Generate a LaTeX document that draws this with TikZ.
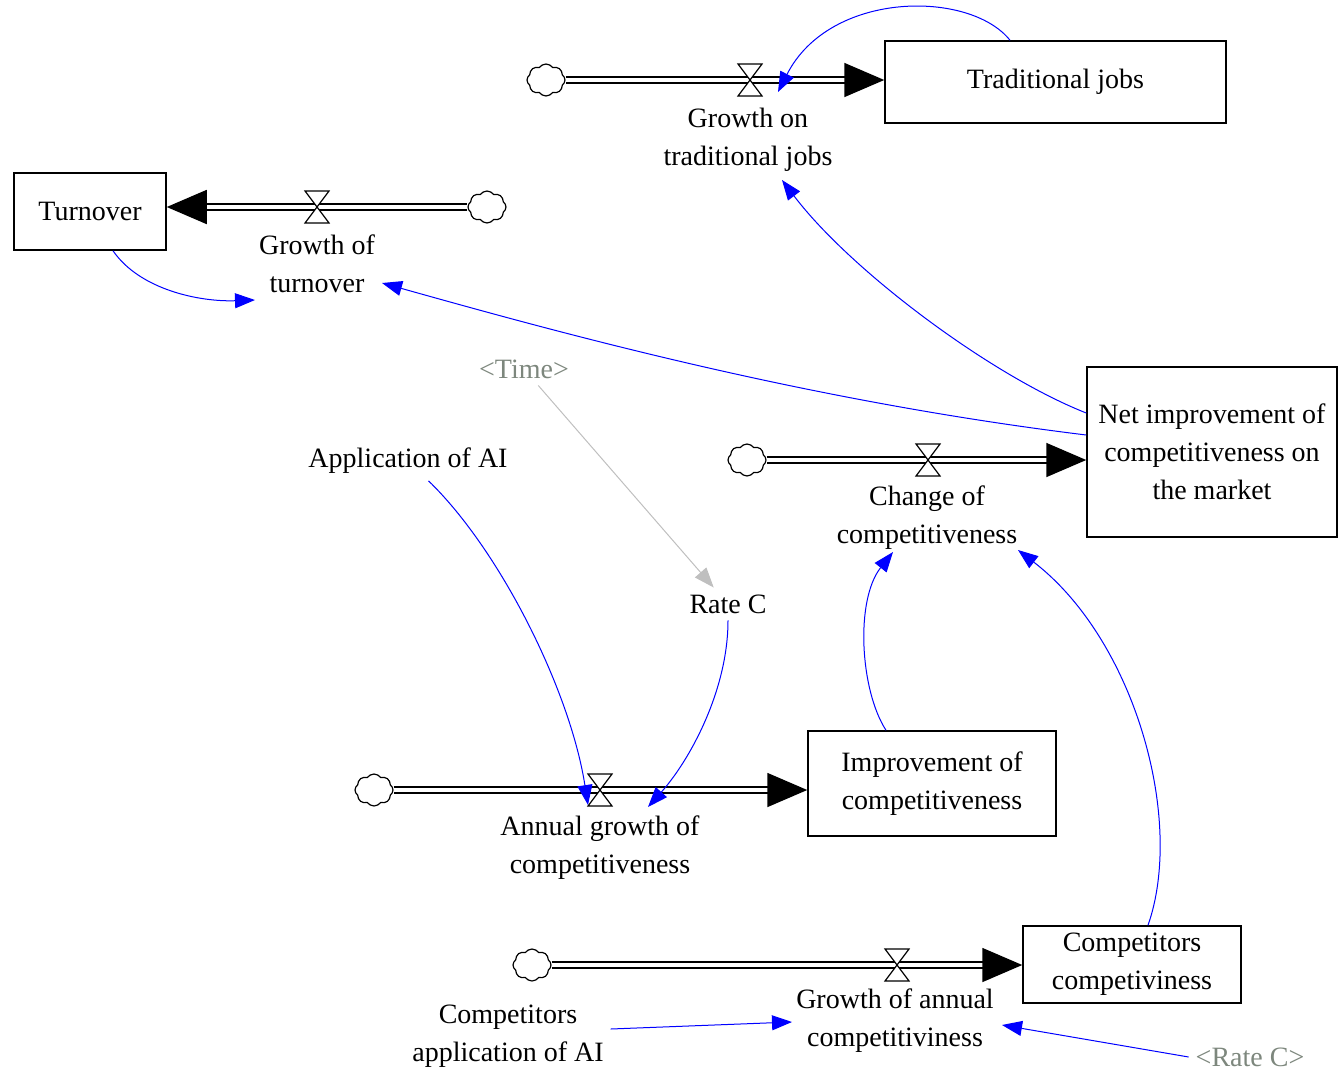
\documentclass[tikz,border=0pt]{standalone}
\usepackage{fontspec}
\setmainfont{Liberation Serif}
\usetikzlibrary{arrows.meta,shapes.symbols}

\definecolor{shadowgray}{RGB}{125,135,125}

\tikzset{
  every node/.style={font=\fontsize{14}{19}\selectfont, align=center},
  level/.style={draw, line width=0.75pt, inner sep=0pt},
  source/.style={cloud, draw, cloud puffs=8, cloud puff arc=110, aspect=1.2,
    minimum width=19pt, minimum height=16pt, inner sep=0pt, line width=0.6pt},
  pipe/.style={draw, line width=0.85pt, double distance=2.3pt,
    -{Triangle[length=20pt,width=17pt]}},
  link/.style={blue, line width=0.5pt, -{Triangle[length=10pt,width=7.5pt]}},
  shadow/.style={text=shadowgray},
  valve/.pic={\filldraw[fill=white, line width=0.6pt] (-6pt,8pt) -- (6pt,8pt) -- (-6pt,-8pt) -- (6pt,-8pt) -- cycle;}
}

\begin{document}
\begin{tikzpicture}[x=0.5pt, y=-0.5pt]
  \useasboundingbox (0,0) rectangle (1339,1071);

  % stocks
  \node[level, minimum width=170.5pt, minimum height=41pt] (jobs) at (1055.5,82) {Traditional jobs};
  \node[level, minimum width=76pt, minimum height=38.5pt] (turn) at (90,211.5) {Turnover};
  \node[level, minimum width=125pt, minimum height=85pt] (net) at (1212,452) {Net improvement of\\competitiveness on\\the market};
  \node[level, minimum width=124pt, minimum height=52.5pt] (impr) at (932,783.5) {Improvement of\\competitiveness};
  \node[level, minimum width=109pt, minimum height=38.5pt] (comp) at (1132,964.5) {Competitors\\competiviness};

  % sources
  \node[source] (s1) at (546,80) {};
  \node[source] (s2) at (487,207) {};
  \node[source] (s3) at (747,460) {};
  \node[source] (s4) at (374,790) {};
  \node[source] (s5) at (532,965) {};

  % flows
  \draw[pipe] (s1.east) -- (jobs.west |- s1);
  \draw[pipe] (s2.west) -- (turn.east |- s2);
  \draw[pipe] (s3.east) -- (net.west |- s3);
  \draw[pipe] (s4.east) -- (impr.west |- s4);
  \draw[pipe] (s5.east) -- (comp.west |- s5);

  \coordinate (v1) at (750,80);
  \coordinate (v2) at (317,207);
  \coordinate (v3) at (928,460);
  \coordinate (v4) at (600,790);
  \coordinate (v5) at (897,965);
  \foreach \v in {v1,v2,v3,v4,v5}
    \pic at (\v) {valve};

  % flow names and variables
  \node (gjobs) at (748,140) {Growth on\\traditional jobs};
  \node (gturn) at (317,264) {Growth of\\turnover};
  \node (chg) at (927,518) {Change of\\competitiveness};
  \node (agc) at (600,848) {Annual growth of\\competitiveness};
  \node (gac) at (895,1021) {Growth of annual\\competitiviness};
  \node (cai) at (508,1036) {Competitors\\application of AI};
  \node (ai) at (408,461) {Application of AI};
  \node (rate) at (728,604) {Rate C};
  \node[shadow] (time) at (524,369) {<Time>};
  \node[shadow] (rate2) at (1250,1057) {<Rate C>};

  % links
  \draw[link] ([xshift=-22.75pt]jobs.north) .. controls (970,-10) and (830,-10) .. ([shift={(28,12)}]v1);
  \draw[link] ([shift={(0,-39)}]net.west) .. controls (990,375) and (850,270) .. (782,180);
  \draw[link] ([shift={(0,-17)}]net.west) .. controls (800,400) and (550,330) .. (382,283);
  \draw[link] ([xshift=11.5pt]turn.south) .. controls (140,290) and (200,302) .. (255,300);
  \draw[link, black!25] (time) -- (rate);
  \draw[link] (ai) .. controls (500,550) and (570,690) .. ([shift={(-12,15)}]v4);
  \draw[link] (rate) .. controls (728,690) and (690,760) .. ([shift={(48,17)}]v4);
  \draw[link] ([xshift=-23pt]impr.north) .. controls (860,690) and (855,600) .. (893,552);
  \draw[link] ([xshift=8pt]comp.north) .. controls (1185,820) and (1135,640) .. (1018,550);
  \draw[link] (cai.east |- 0,1029) -- (792,1022);
  \draw[link] (rate2.west) -- (1002,1025);
\end{tikzpicture}
\end{document}
